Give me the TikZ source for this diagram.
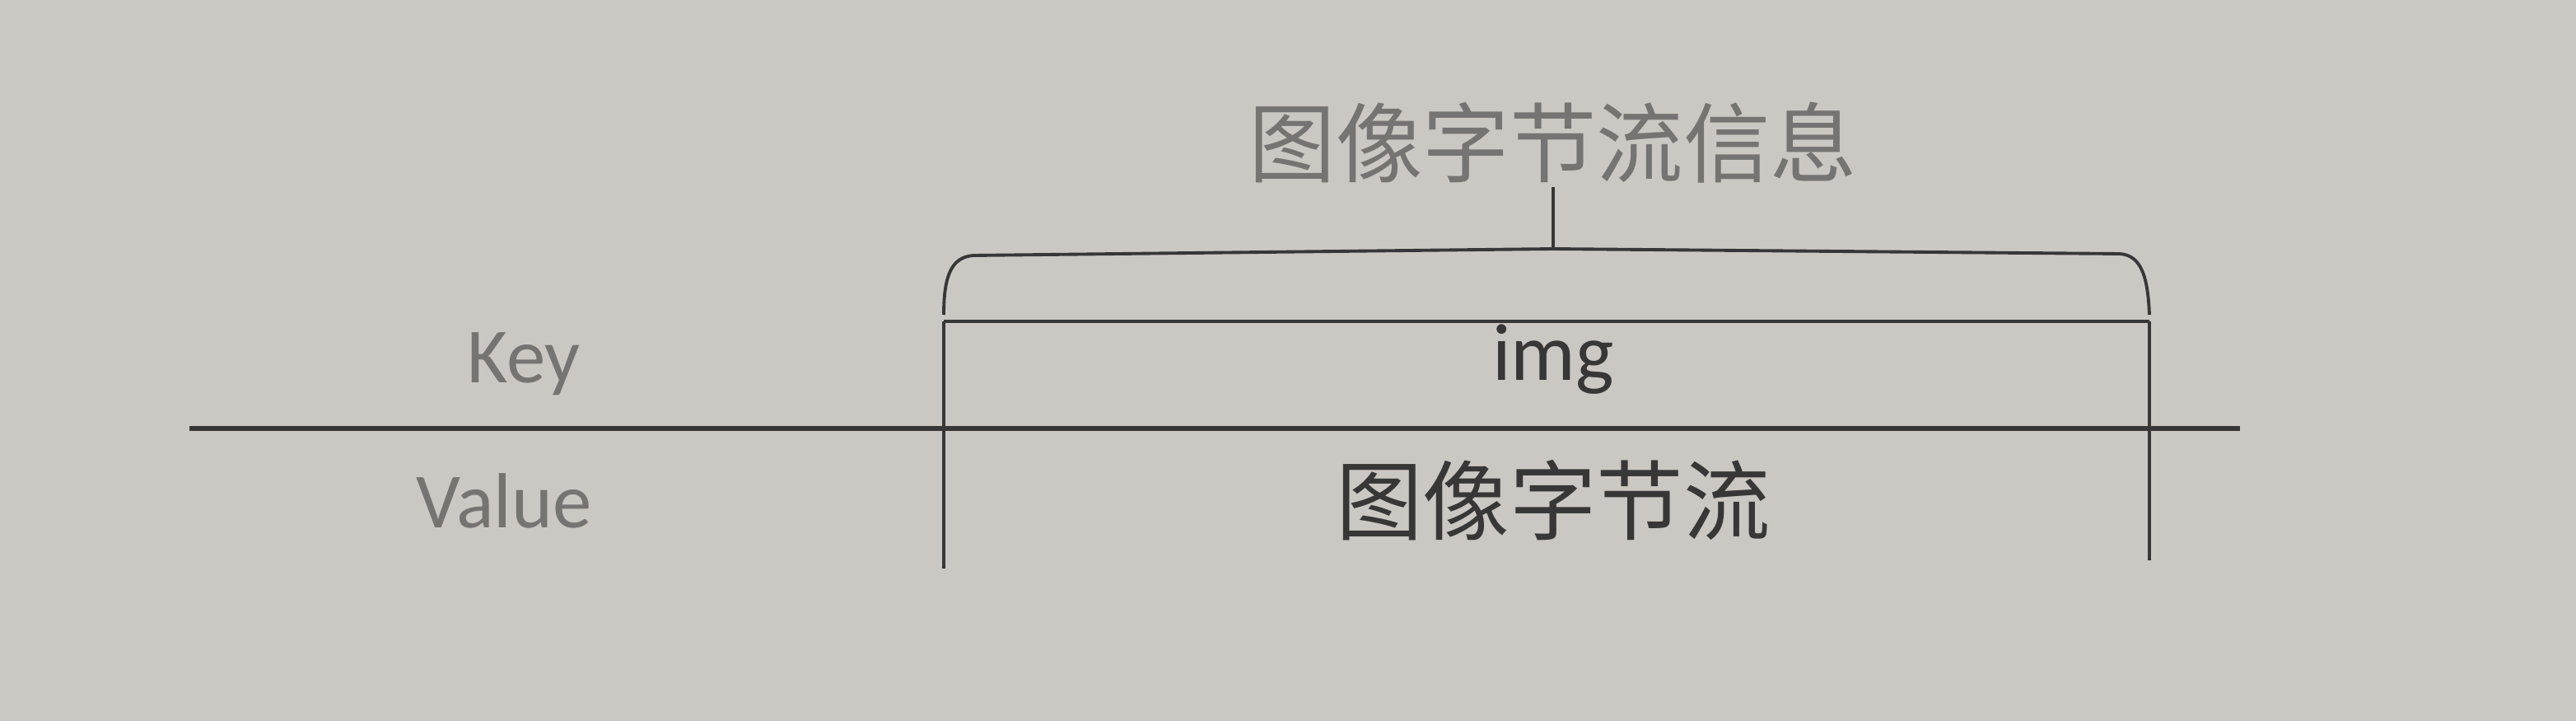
\documentclass[tikz,border=0pt]{standalone}
\usepackage{fontspec}
\setmainfont{Carlito}
\newfontfamily\cjk{Noto Sans CJK SC}
\definecolor{paper}{RGB}{203,199,194}
\definecolor{ink}{RGB}{55,55,55}
\definecolor{faint}{RGB}{118,116,114}
\begin{document}
\begin{tikzpicture}
\tikzstyle{every node}=[inner sep=0pt,anchor=base];
\tikzstyle{lbl}=[text=faint,font=\fontsize{27}{27}\selectfont];
\tikzstyle{cell}=[text=ink,font=\fontsize{28}{28}\selectfont];
\fill[paper](0,0) rectangle (31.28,-8.75);
\useasboundingbox(0,0) rectangle (31.28,-8.75);
\node[text=faint,font=\fontsize{30}{30}\selectfont\cjk,anchor=center](title) at (18.86,-1.73) {图像字节流信息};
\node[lbl](key) at (6.36,-4.65) {Key};
\node[lbl](value) at (6.12,-6.40) {Value};
\node[cell](img) at (18.86,-4.62) {img};
\node[cell,font=\fontsize{30}{30}\selectfont\cjk,anchor=center](stream) at (18.86,-6.07) {图像字节流};
\coordinate(d1) at (2.3,-5.2);
\coordinate(d2) at (27.2,-5.2);
\coordinate(l1) at (11.46,-3.9);
\coordinate(l2) at (11.46,-6.9);
\coordinate(r1) at (26.1,-3.9);
\coordinate(r2) at (26.1,-6.8);
\coordinate(t1) at (18.86,-3.02);
\coordinate(t2) at (18.86,-2.27);
\draw[ink,line width=1.7pt](d1)--(d2);
\draw[ink,line width=0.9pt](l1)--(l2)(r1)--(r2)(t1)--(t2);
\draw[ink,line width=1.1pt](l1)--(r1);
\draw[ink,line width=1.1pt](11.46,-3.82) .. controls (11.46,-3.35) and (11.55,-3.12) .. (11.82,-3.1) -- (t1) -- (25.74,-3.08) .. controls (26.0,-3.1) and (26.08,-3.35) .. (26.1,-3.82);
\end{tikzpicture}
\end{document}
